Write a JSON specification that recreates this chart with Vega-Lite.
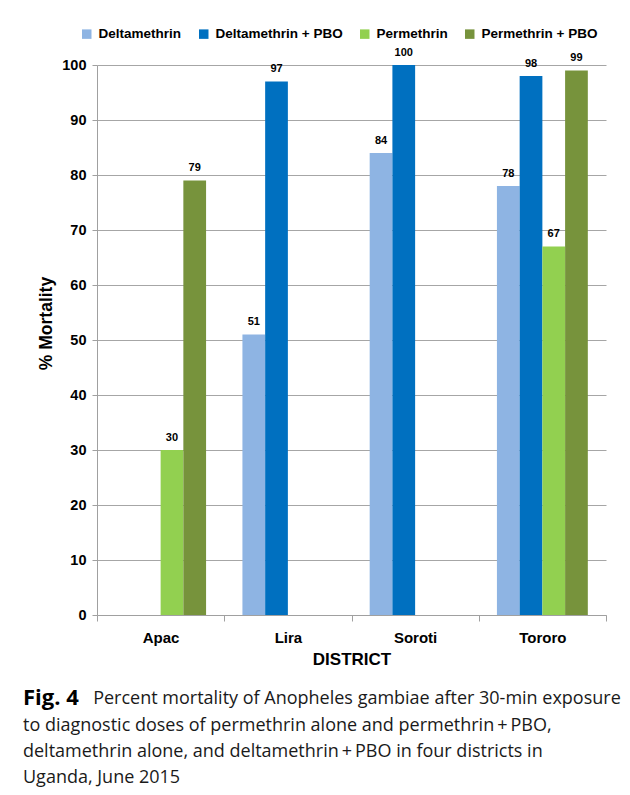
{
  "$schema": "https://vega.github.io/schema/vega-lite/v6.json",
  "width": 509,
  "height": 550,
  "autosize": {"type": "none"},
  "padding": {"left": 97, "top": 65, "right": 24, "bottom": 180},
  "background": "white",
  "data": {
    "values": [
      {"District": "Apac", "Treatment": "Permethrin", "Mortality": 30},
      {"District": "Apac", "Treatment": "Permethrin + PBO", "Mortality": 79},
      {"District": "Lira", "Treatment": "Deltamethrin", "Mortality": 51},
      {"District": "Lira", "Treatment": "Deltamethrin + PBO", "Mortality": 97},
      {"District": "Soroti", "Treatment": "Deltamethrin", "Mortality": 84},
      {"District": "Soroti", "Treatment": "Deltamethrin + PBO", "Mortality": 100},
      {"District": "Tororo", "Treatment": "Deltamethrin", "Mortality": 78},
      {"District": "Tororo", "Treatment": "Deltamethrin + PBO", "Mortality": 98},
      {"District": "Tororo", "Treatment": "Permethrin", "Mortality": 67},
      {"District": "Tororo", "Treatment": "Permethrin + PBO", "Mortality": 99}
    ]
  },
  "encoding": {
    "x": {
      "field": "District",
      "type": "nominal",
      "title": "DISTRICT",
      "scale": {"paddingInner": 0, "paddingOuter": 0},
      "axis": {
        "labelAngle": 0,
        "tickBand": "extent",
        "tickSize": 6,
        "tickColor": "#a0a0a0",
        "domainColor": "#a0a0a0",
        "labelFont": "Liberation Sans",
        "labelFontWeight": "bold",
        "labelFontSize": 15,
        "labelColor": "black",
        "labelPadding": 9,
        "titleFont": "Liberation Sans",
        "titleFontWeight": "bold",
        "titleFontSize": 17,
        "titleColor": "black",
        "titlePadding": 6
      }
    },
    "xOffset": {
      "field": "Treatment",
      "type": "nominal",
      "scale": {"domain": ["Deltamethrin", "Deltamethrin + PBO", "Permethrin", "Permethrin + PBO"], "paddingInner": 0, "paddingOuter": 0.8}
    },
    "y": {
      "field": "Mortality",
      "type": "quantitative",
      "title": "% Mortality",
      "scale": {"domain": [0, 100]},
      "axis": {
        "values": [0, 10, 20, 30, 40, 50, 60, 70, 80, 90, 100],
        "tickSize": 5,
        "tickColor": "#a0a0a0",
        "domainColor": "#a0a0a0",
        "gridColor": "#a6a6a6",
        "labelFont": "Liberation Sans",
        "labelFontWeight": "bold",
        "labelFontSize": 14.5,
        "labelColor": "black",
        "labelPadding": 6,
        "titleFont": "Liberation Sans",
        "titleFontWeight": "bold",
        "titleFontSize": 17.5,
        "titleColor": "black",
        "titleAngle": 270,
        "titleAlign": "center",
        "titleBaseline": "middle",
        "titleX": -51,
        "titleY": 258
      }
    }
  },
  "layer": [
    {
      "mark": {"type": "bar"},
      "encoding": {
        "color": {
          "field": "Treatment",
          "type": "nominal",
          "scale": {
            "domain": ["Deltamethrin", "Deltamethrin + PBO", "Permethrin", "Permethrin + PBO"],
            "range": ["#8EB4E3", "#0070C0", "#92D050", "#77933C"]
          },
          "legend": {
            "orient": "none",
            "direction": "horizontal",
            "legendX": -17,
            "legendY": -38,
            "title": null,
            "symbolType": "square",
            "symbolSize": 90,
            "symbolStrokeWidth": 0,
            "symbolOpacity": 1,
            "labelFont": "Liberation Sans",
            "labelFontWeight": "bold",
            "labelFontSize": 13.5,
            "labelColor": "black",
            "labelOffset": 5,
            "columnPadding": 15
          }
        }
      }
    },
    {
      "mark": {
        "type": "text",
        "baseline": "alphabetic",
        "dy": -9.5,
        "font": "Liberation Sans",
        "fontWeight": "bold",
        "fontSize": 11,
        "color": "black"
      },
      "encoding": {"text": {"field": "Mortality", "type": "quantitative"}}
    }
  ],
  "title": {
    "text": "Fig. 4",
    "subtitle": [
      "\u200b\u00a0\u00a0\u00a0\u00a0\u00a0\u00a0\u00a0\u00a0\u00a0\u00a0\u00a0\u00a0\u00a0\u00a0\u00a0Percent mortality of Anopheles gambiae after 30-min exposure",
      "to diagnostic doses of permethrin alone and permethrin\u2009+\u2009PBO,",
      "deltamethrin alone, and deltamethrin\u2009+\u2009PBO in four districts in",
      "Uganda, June 2015"
    ],
    "orient": "bottom",
    "anchor": "start",
    "dx": -14,
    "font": "Open Sans",
    "fontSize": 22,
    "fontWeight": "bold",
    "color": "black",
    "subtitleFont": "Open Sans",
    "subtitleFontSize": 18,
    "subtitleFontWeight": "normal",
    "subtitleColor": "#1a1a1a",
    "subtitleLineHeight": 26.3,
    "subtitlePadding": -19.6,
    "offset": 21
  },
  "config": {"view": {"stroke": null}}
}
